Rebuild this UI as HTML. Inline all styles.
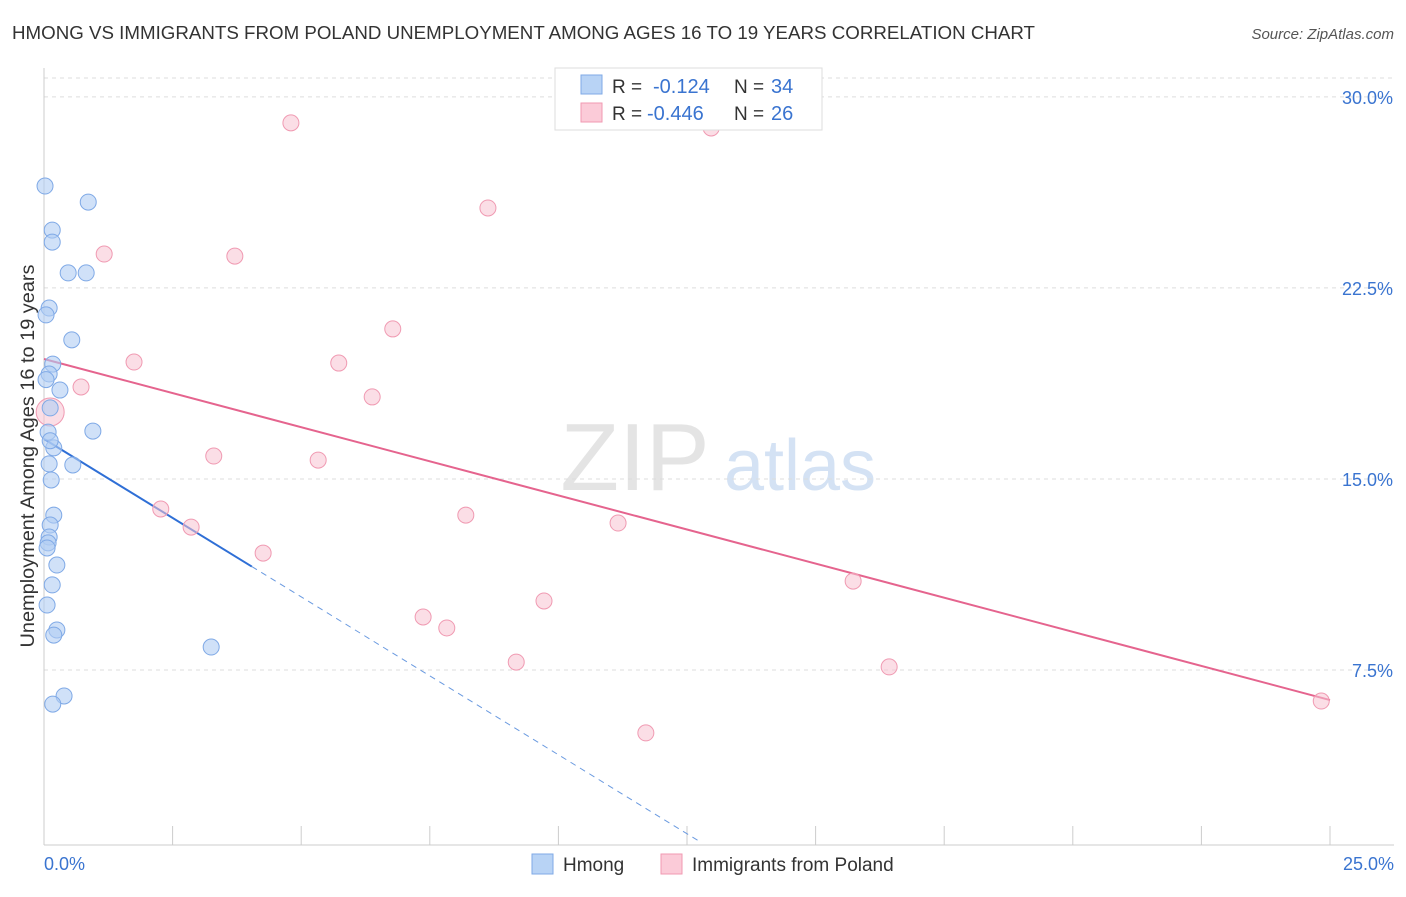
<!DOCTYPE html>
<html><head><meta charset="utf-8"><style>
body{margin:0;background:#fff;font-family:"Liberation Sans",sans-serif;}
svg text{font-family:"Liberation Sans",sans-serif;}
</style></head><body>
<svg id="chart" width="1406" height="892">
<text x="12" y="39" font-size="18.5" fill="#333" textLength="1023" lengthAdjust="spacingAndGlyphs">HMONG VS IMMIGRANTS FROM POLAND UNEMPLOYMENT AMONG AGES 16 TO 19 YEARS CORRELATION CHART</text>
<text x="1394" y="39" font-size="15" fill="#555" text-anchor="end" font-style="italic">Source: ZipAtlas.com</text>
<text x="635" y="490" font-size="96" fill="#e4e4e4" text-anchor="middle" font-family="Liberation Serif">ZIP</text>
<text x="800" y="490" font-size="72" fill="#d4e2f4" text-anchor="middle">atlas</text>
<g id="grid"></g><g id="axes"></g><g id="lines"></g><g id="pts"></g>
<text transform="translate(34,456) rotate(-90)" font-size="19" fill="#333" text-anchor="middle" textLength="383" lengthAdjust="spacingAndGlyphs">Unemployment Among Ages 16 to 19 years</text>
<g>
<rect x="555" y="68" width="267" height="62" fill="#fff" stroke="#ddd"/>
<rect x="581" y="75" width="21" height="19" fill="#b8d3f5" stroke="#7fa9e6"/>
<rect x="581" y="103" width="21" height="19" fill="#fbcbd8" stroke="#f09ab2"/>
<text x="612" y="93" font-size="19" fill="#333">R = </text><text x="653" y="93" font-size="20" fill="#3a74d0">-0.124</text>
<text x="734" y="93" font-size="19" fill="#333">N = </text><text x="771" y="93" font-size="20" fill="#3a74d0">34</text>
<text x="612" y="120" font-size="19" fill="#333">R = </text><text x="647" y="120" font-size="20" fill="#3a74d0">-0.446</text>
<text x="734" y="120" font-size="19" fill="#333">N = </text><text x="771" y="120" font-size="20" fill="#3a74d0">26</text>
</g>
<g>
<rect x="532" y="854" width="21" height="20" fill="#b8d3f5" stroke="#7fa9e6"/>
<text x="563" y="871" font-size="19" fill="#333">Hmong</text>
<rect x="661" y="854" width="21" height="20" fill="#fbcbd8" stroke="#f09ab2"/>
<text x="692" y="871" font-size="19" fill="#333">Immigrants from Poland</text>
</g>
</svg>
<script>
const yTicks=[7.5,15,22.5,30];
const yTickLabels=["7.5%","15.0%","22.5%","30.0%"];
const blueX=[0.02,0.86,0.16,0.16,0.47,0.82,0.10,0.04,0.54,0.17,0.10,0.31,0.12,0.08,0.95,0.19,0.10,0.56,0.14,0.19,0.12,0.10,0.08,0.06,0.25,0.16,0.06,0.25,0.19,3.25,0.39,0.17,0.04,0.12];
const blueY=[26.50,25.87,24.77,24.30,23.09,23.09,21.71,21.44,20.46,19.51,19.12,18.49,17.79,16.84,16.88,16.22,15.59,15.55,14.96,13.58,13.19,12.72,12.49,12.29,11.62,10.84,10.05,9.07,8.87,8.40,6.48,6.16,18.9,16.5];
const pinkX=[4.80,12.97,8.63,1.17,3.71,6.78,1.75,5.73,0.72,6.38,0.12,3.30,5.33,2.27,8.20,11.16,2.86,4.26,15.73,9.72,7.37,7.83,9.18,16.43,11.70,24.83];
const pinkY=[28.98,28.78,25.64,23.83,23.75,20.89,19.59,19.55,18.61,18.22,17.63,15.90,15.74,13.82,13.58,13.27,13.11,12.09,10.99,10.21,9.58,9.15,7.81,7.62,5.03,6.28];
const blueLine=[16.57,-1.24];
const blueSolidEnd=4.04, blueDashEnd=12.75;
const pinkLine=[19.71,-0.5356];
const X=v=>44+v*51.44, Y=v=>861-v*25.47;
const NS="http://www.w3.org/2000/svg";
function mk(p,t,a){const e=document.createElementNS(NS,t);for(const k in a)e.setAttribute(k,a[k]);document.getElementById(p).appendChild(e);return e;}
yTicks.forEach((t,i)=>{
 const g=mk('grid','line',{x1:44,x2:1394,y1:Y(t),y2:Y(t),stroke:'#ddd','stroke-dasharray':'4,4'});
 
 
 const l=mk('grid','text',{x:1393,y:Y(t)+7,'font-size':18,fill:'#3a74d0','text-anchor':'end'});l.textContent=yTickLabels[i];
 
 
});
mk('grid','line',{x1:44,x2:1394,y1:78,y2:78,stroke:'#ddd','stroke-dasharray':'4,4'});
mk('axes','line',{x1:44,x2:44,y1:68,y2:845,stroke:'#ccc'});
mk('axes','line',{x1:44,x2:1394,y1:845,y2:845,stroke:'#ccc'});
for(let i=0;i<=10;i++){const t=mk('axes','line',{x1:X(i*2.5),x2:X(i*2.5),y1:826,y2:845,stroke:'#ccc'});
 
 }
let a=mk('axes','text',{x:44,y:870,'font-size':18,fill:'#3a74d0'});a.textContent='0.0%';


a=mk('axes','text',{x:1394,y:870,'font-size':18,fill:'#3a74d0','text-anchor':'end'});a.textContent='25.0%';


let ln=mk('lines','line',{x1:X(0),y1:Y(blueLine[0]),x2:X(blueSolidEnd),y2:Y(blueLine[0]+blueLine[1]*blueSolidEnd),stroke:'#2f6fd6','stroke-width':2});


ln=mk('lines','line',{x1:X(blueSolidEnd),y1:Y(blueLine[0]+blueLine[1]*blueSolidEnd),x2:X(blueDashEnd),y2:Y(blueLine[0]+blueLine[1]*blueDashEnd),stroke:'#6a9ae0','stroke-width':1,'stroke-dasharray':'6,5'});


ln=mk('lines','line',{x1:X(0),y1:Y(pinkLine[0]),x2:X(25),y2:Y(pinkLine[0]+pinkLine[1]*25),stroke:'#e5648e','stroke-width':2});


pinkX.forEach((x,i)=>{const c=mk('pts','circle',{cx:X(x),cy:Y(pinkY[i]),r:i==10?14:8,fill:'#f8c3d2','fill-opacity':0.55,stroke:'#f09ab2'});
 
 });
blueX.forEach((x,i)=>{const c=mk('pts','circle',{cx:X(x),cy:Y(blueY[i]),r:8,fill:'#b0cdf3','fill-opacity':0.6,stroke:'#7fa9e6'});
 
 });
</script>
</body></html>
